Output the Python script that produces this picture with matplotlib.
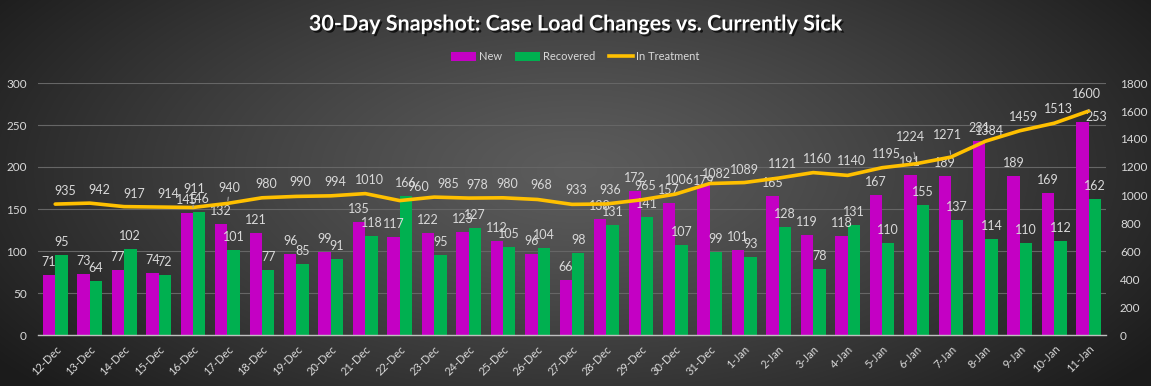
import numpy as np
import matplotlib
matplotlib.use("Agg")
import matplotlib.pyplot as plt
from matplotlib.patches import Patch
from matplotlib.lines import Line2D
import matplotlib.patheffects as pe

plt.rcParams['font.family'] = ['Lato', 'DejaVu Sans']

dates = ["12-Dec", "13-Dec", "14-Dec", "15-Dec", "16-Dec", "17-Dec", "18-Dec", "19-Dec",
         "20-Dec", "21-Dec", "22-Dec", "23-Dec", "24-Dec", "25-Dec", "26-Dec", "27-Dec",
         "28-Dec", "29-Dec", "30-Dec", "31-Dec", "1-Jan", "2-Jan", "3-Jan", "4-Jan",
         "5-Jan", "6-Jan", "7-Jan", "8-Jan", "9-Jan", "10-Jan", "11-Jan"]
new_cases = [71, 73, 77, 74, 145, 132, 121, 96, 99, 135, 117, 122, 123, 112, 96, 66,
             138, 172, 157, 179, 101, 165, 119, 118, 167, 191, 189, 231, 189, 169, 253]
recovered = [95, 64, 102, 72, 146, 101, 77, 85, 91, 118, 166, 95, 127, 105, 104, 98,
             131, 141, 107, 99, 93, 128, 78, 131, 110, 155, 137, 114, 110, 112, 162]
in_treatment = [935, 942, 917, 914, 911, 940, 980, 990, 994, 1010, 960, 985, 978, 980,
                968, 933, 936, 965, 1006, 1082, 1089, 1121, 1160, 1140, 1195, 1224, 1271,
                1384, 1459, 1513, 1600]

MAGENTA = '#C400C4'
GREEN = '#00B050'
GOLD = '#FFC000'
LABEL = '#D9D9D9'

W, H = 1151, 386
fig = plt.figure(figsize=(W / 100, H / 100), dpi=100)

# background radial gradient
bg = fig.add_axes([0, 0, 1, 1], zorder=-10)
yy, xx = np.mgrid[0:H, 0:W]
r = np.sqrt(((xx - 575) / 700.0) ** 2 + ((yy - 170) / 330.0) ** 2)
t = np.clip(r / 1.0, 0, 1) ** 1.2
c0 = np.array([0x5c, 0x5c, 0x5c]) / 255.0
c1 = np.array([0x1c, 0x1c, 0x1c]) / 255.0
img = c0[None, None, :] * (1 - t[..., None]) + c1[None, None, :] * t[..., None]
bg.imshow(img, aspect='auto', extent=[0, 1, 0, 1])
bg.axis('off')

ax = fig.add_axes([38 / W, 51 / H, 1068 / W, 252 / H])
ax.set_facecolor('none')
ax2 = ax.twinx()

x = np.arange(len(dates))
bw = 0.36
ax.bar(x - bw / 2, new_cases, width=bw, color=MAGENTA, zorder=2)
ax.bar(x + bw / 2, recovered, width=bw, color=GREEN, zorder=2)
ax.set_xlim(-0.5, len(dates) - 0.5)
ax.set_ylim(0, 300)
ax.set_yticks(np.arange(0, 301, 50))
ax.yaxis.grid(True, color='#666666', lw=0.8, zorder=0)
ax.set_axisbelow(True)

ax2.plot(x, in_treatment, color=GOLD, lw=2.6, solid_capstyle='round', zorder=5)
ax2.set_ylim(0, 1800)
ax2.set_yticks(np.arange(0, 1801, 200))

for a in (ax, ax2):
    for s in a.spines.values():
        s.set_visible(False)
    a.tick_params(axis='both', length=0, colors=LABEL, labelsize=8.5)
ax.spines['bottom'].set_visible(True)
ax.spines['bottom'].set_color('#BFBFBF')
ax.spines['bottom'].set_linewidth(1.0)
ax.tick_params(axis='y', pad=8)
ax2.tick_params(axis='y', pad=10)
ax.set_xticks(x)
ax.set_xticklabels(dates, rotation=45, ha='right', va='top', rotation_mode='anchor',
                   fontsize=8)
ax.tick_params(axis='x', pad=6)

# bar data labels
bar_off = {('n', 19): (0, 4), ('n', 30): (14, 5)}
for i, v in enumerate(new_cases):
    dx, dy = bar_off.get(('n', i), (0, 13))
    ax.annotate(str(v), (i - bw / 2, v), xytext=(dx, dy), textcoords='offset pixels',
                ha='center', va='center', color=LABEL, fontsize=9, zorder=6)
for i, v in enumerate(recovered):
    dx, dy = bar_off.get(('r', i), (0, 13))
    ax.annotate(str(v), (i + bw / 2, v), xytext=(dx, dy), textcoords='offset pixels',
                ha='center', va='center', color=LABEL, fontsize=9, zorder=6)

# line data labels
line_off = {0: (10, 13), 1: (10, 13), 2: (10, 13), 3: (10, 13), 4: (1, 18), 5: (2, 15),
            10: (19, 14), 11: (14, 13), 12: (9, 13), 19: (7, 10), 20: (0, 13),
            25: (-6, 27), 26: (-3, 22), 27: (4, 10), 30: (-2, 17)}
leaders = {4, 5, 25, 26, 30}
for i, v in enumerate(in_treatment):
    dx, dy = line_off.get(i, (4, 14))
    kw = {}
    if i in leaders:
        kw['arrowprops'] = dict(arrowstyle='-', color='#A6A6A6', lw=0.8,
                                shrinkA=5, shrinkB=2)
    ax2.annotate(str(v), (i, v), xytext=(dx, dy), textcoords='offset pixels',
                 ha='center', va='center', color=LABEL, fontsize=9, zorder=7, **kw)

# title
fig.text(0.5, 1 - 24 / H, "30-Day Snapshot: Case Load Changes vs. Currently Sick",
         ha='center', va='center', color='white', fontsize=15.5, fontweight='bold',
         path_effects=[pe.withSimplePatchShadow(offset=(1.5, -1.5), shadow_rgbFace='black',
                                                alpha=0.7)])

# legend
handles = [Patch(facecolor=MAGENTA, label='New'),
           Patch(facecolor=GREEN, label='Recovered'),
           Line2D([0], [0], color=GOLD, lw=2.6, label='In Treatment')]
fig.legend(handles=handles, loc='center', bbox_to_anchor=(0.5, 1 - 57 / H), ncol=3,
           frameon=False, fontsize=8, labelcolor=LABEL, handlelength=2.2,
           handleheight=0.8, handletextpad=0.3, columnspacing=1.2)

fig.savefig('out.png', dpi=100)
